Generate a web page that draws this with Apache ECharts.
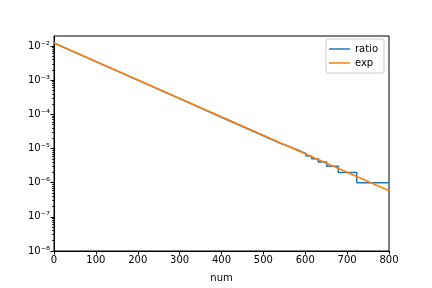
<!DOCTYPE html>
<html>
<head>
<meta charset="utf-8">
<script src="https://cdn.jsdelivr.net/npm/echarts@6/dist/echarts.min.js"></script>
<style>
	html, body { margin: 0; padding: 0; background: #fff; }
	#chart { width: 432px; height: 288px; }
</style>
</head>
<body>
<div id="chart"></div>
<script>
( function() {
	'use strict';
	// ratio: smooth part (sits under the exp line)
	var ratioX = [ 0, 100, 200, 300, 400, 500, 545 ];
	var ratioY = [ 0.0122, 3.5e-3, 1.0e-3, 2.87e-4, 8.2e-5, 2.36e-5, 1.34e-5 ];
	// ratio: quantised tail, each level starts at stepX
	var stepX = [ 545, 550, 557, 565, 573, 582, 592, 602, 615, 631, 651, 679, 723 ];
	var stepY = [ 13e-6, 12e-6, 11e-6, 10e-6, 9e-6, 8e-6, 7e-6, 6e-6, 5e-6, 4e-6, 3e-6, 2e-6, 1e-6 ];
	var stepEnd = 800;
	// exp: straight line on the log axis
	var expX = [ 0, 800 ];
	var expY = [ 0.0122, 5.8e-7 ];

	var xTicks = [ 0, 100, 200, 300, 400, 500, 600, 700, 800 ];
	var yTicks = [ 1e-8, 1e-7, 1e-6, 1e-5, 1e-4, 1e-3, 1e-2 ];
	var yTickLabels = [ '10⁻⁸', '10⁻⁷', '10⁻⁶', '10⁻⁵', '10⁻⁴', '10⁻³', '10⁻²' ];

	var ratioData = [];
	for ( var i = 0; i < ratioX.length; i++ ) {
		ratioData.push( [ ratioX[ i ], ratioY[ i ] ] );
	}
	for ( var j = 0; j < stepX.length; j++ ) {
		var next = j + 1 < stepX.length ? stepX[ j + 1 ] : stepEnd;
		ratioData.push( [ stepX[ j ], stepY[ j ] ] );
		ratioData.push( [ next, stepY[ j ] ] );
	}
	var expData = [];
	for ( var k = 0; k < expX.length; k++ ) {
		expData.push( [ expX[ k ], expY[ k ] ] );
	}

	// minor ticks 2..9 per decade
	var minorTicks = [];
	for ( var e = -8; e <= -3; e++ ) {
		for ( var m = 2; m <= 9; m++ ) {
			minorTicks.push( m * Math.pow( 10, e ) );
		}
	}

	var font = 'DejaVu Sans';
	var chart = echarts.init( document.getElementById( 'chart' ) );
	chart.setOption( {
		animation: false,
		textStyle: { fontFamily: font },
		grid: {
			left: 54, right: 43, top: 36, bottom: 36,
			show: true, borderColor: '#000', borderWidth: 1, backgroundColor: 'transparent'
		},
		legend: {
			data: [ 'ratio', 'exp' ],
			orient: 'vertical',
			right: 48,
			top: 39,
			icon: 'rect',
			itemWidth: 21,
			itemHeight: 1.5,
			itemGap: 2,
			padding: [ 4, 6, 4, 3 ],
			borderColor: '#cccccc',
			borderWidth: 1,
			borderRadius: 2,
			backgroundColor: 'rgba(255,255,255,0.8)',
			textStyle: { fontFamily: font, fontSize: 10, color: '#000', lineHeight: 12 }
		},
		xAxis: {
			type: 'value',
			min: 0,
			max: 800,
			interval: 100,
			name: 'num',
			nameLocation: 'middle',
			nameGap: 22,
			nameTextStyle: { fontFamily: font, fontSize: 10, color: '#000' },
			splitLine: { show: false },
			axisLine: { lineStyle: { color: '#000', width: 1 } },
			axisTick: { length: 3.5, lineStyle: { color: '#000' }, customValues: xTicks },
			axisLabel: { fontFamily: font, fontSize: 10, color: '#000', margin: 4, customValues: xTicks }
		},
		yAxis: [ {
			type: 'log',
			logBase: 10,
			min: 1e-8,
			max: 0.0196,
			splitLine: { show: false },
			axisLine: { lineStyle: { color: '#000', width: 1 } },
			axisTick: { length: 3.5, lineStyle: { color: '#000' }, customValues: yTicks },
			axisLabel: {
				fontFamily: font, fontSize: 10, color: '#000', margin: 4,
				customValues: yTicks,
				formatter: function( v ) {
					var idx = Math.round( Math.log( v ) / Math.LN10 ) + 8;
					return yTickLabels[ idx ] || '';
				}
			}
		}, {
			type: 'log',
			logBase: 10,
			min: 1e-8,
			max: 0.0196,
			position: 'left',
			splitLine: { show: false },
			axisLine: { show: false },
			axisTick: { length: 2, lineStyle: { color: '#000', width: 0.8 }, customValues: minorTicks },
			axisLabel: { show: false }
		} ],
		series: [ {
			name: 'ratio',
			type: 'line',
			symbol: 'none',
			data: ratioData,
			lineStyle: { color: '#1f77b4', width: 1.5 },
			itemStyle: { color: '#1f77b4' }
		}, {
			name: 'exp',
			type: 'line',
			symbol: 'none',
			data: expData,
			lineStyle: { color: '#ff7f0e', width: 1.5 },
			itemStyle: { color: '#ff7f0e' }
		} ]
	} );
} )();
</script>
</body>
</html>
